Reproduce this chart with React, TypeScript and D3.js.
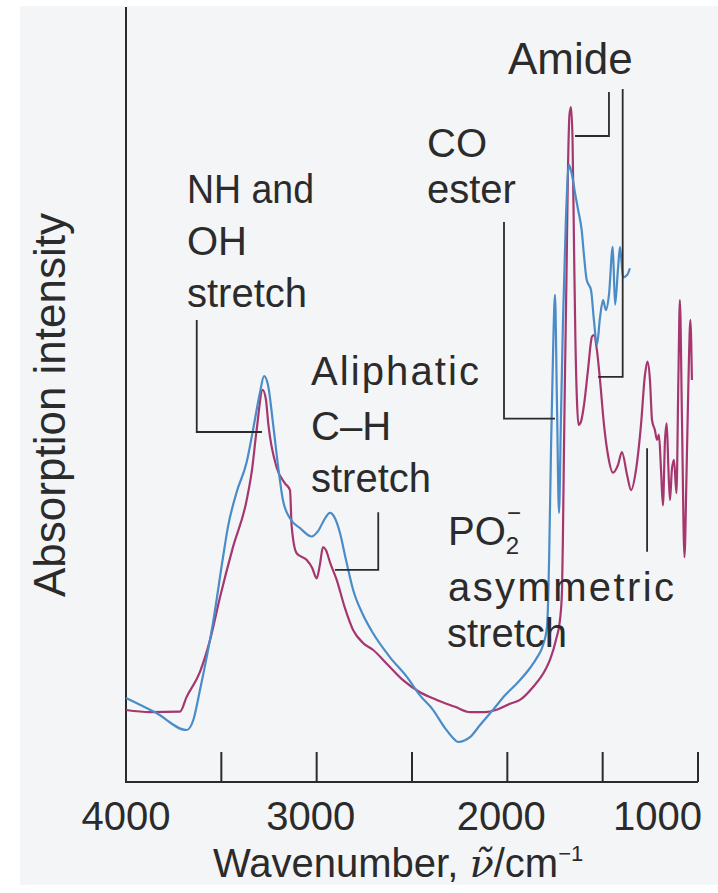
import React from "react";
import * as d3 from "d3";

// Spectrum 1 (blue): [wavenumber cm^-1, absorption intensity (arb.)]
const blueSpectrum: [number, number][] = [
  [4000, 11.05], [3843, 9.1], [3682, 6.84], [3647, 8.16], [3612, 12.1], [3544, 20.9],
  [3491, 29.6], [3465, 33.6], [3419, 38.2], [3367, 42.1], [3334, 46.3], [3297, 51.3],
  [3276, 53.4], [3255, 52.2], [3229, 47.2], [3203, 41.7], [3177, 37.1], [3140, 34.7],
  [3087, 33.4], [3026, 32.3], [2993, 33.0], [2956, 34.7], [2930, 35.4], [2904, 34.7],
  [2878, 32.8], [2846, 29.2], [2809, 25.3], [2757, 22.0], [2705, 19.6], [2615, 16.4],
  [2526, 13.8], [2458, 11.4], [2390, 9.5], [2327, 7.1], [2285, 5.8], [2259, 5.26],
  [2222, 5.5], [2196, 5.9], [2143, 7.5], [2075, 9.5], [2012, 11.4], [1949, 13.0],
  [1881, 15.0], [1844, 16.4], [1813, 18.0], [1792, 20.4], [1786, 23.9], [1781, 29.2],
  [1771, 43.7], [1760, 56.8], [1750, 64.1], [1740, 50.3], [1729, 35.4], [1719, 47.6],
  [1708, 60.8], [1693, 73.9], [1677, 81.2], [1661, 79.9], [1645, 77.5], [1629, 75.3],
  [1610, 72.6], [1598, 69.3], [1584, 66.1], [1561, 64.7], [1546, 60.8], [1530, 57.5],
  [1514, 61.1], [1498, 63.4], [1483, 62.1], [1467, 64.1], [1447, 70.4], [1435, 62.8],
  [1420, 67.4], [1409, 70.4], [1393, 66.4], [1372, 66.7], [1357, 67.6],
];

// Spectrum 2 (magenta)
const pinkSpectrum: [number, number][] = [
  [4000, 9.47], [3874, 9.2], [3717, 9.25], [3682, 11.2], [3612, 14.5], [3559, 18.7],
  [3507, 24.3], [3439, 30.9], [3367, 37.1], [3339, 41.1], [3315, 46.3], [3283, 51.6],
  [3266, 50.3], [3254, 47.2], [3210, 41.4], [3166, 39.3], [3140, 38.4], [3131, 33.6],
  [3105, 30.1], [3052, 29.2], [3024, 28.2], [3000, 26.8], [2983, 28.6], [2967, 30.9],
  [2951, 30.5], [2930, 28.9], [2895, 26.6], [2852, 22.9], [2809, 20.0], [2757, 18.3],
  [2705, 17.4], [2626, 15.4], [2547, 13.4], [2458, 11.8], [2370, 10.8], [2274, 9.9],
  [2196, 9.2], [2117, 9.2], [2056, 9.5], [1986, 10.3], [1934, 10.8], [1865, 12.5],
  [1802, 14.7], [1776, 16.1], [1745, 18.7], [1724, 21.3], [1713, 25.3], [1708, 33.2],
  [1703, 43.7], [1698, 52.9], [1690, 66.1], [1682, 80.5], [1674, 87.8], [1666, 88.8],
  [1658, 84.5], [1650, 70.0], [1643, 58.2], [1635, 50.3], [1627, 47.0], [1614, 47.4],
  [1598, 49.6], [1577, 54.2], [1556, 58.6], [1546, 58.8], [1530, 56.8], [1514, 52.9],
  [1493, 47.0], [1472, 43.0], [1446, 40.7], [1420, 41.7], [1399, 43.4], [1372, 40.4],
  [1351, 38.4], [1325, 41.1], [1299, 47.0], [1278, 53.6], [1265, 55.3], [1252, 52.9],
  [1241, 47.6], [1226, 46.3], [1215, 45.0], [1205, 45.7], [1194, 41.1], [1184, 36.4],
  [1173, 45.0], [1164, 47.2], [1155, 41.1], [1147, 37.1], [1137, 41.1], [1126, 42.4],
  [1113, 38.0], [1103, 52.9], [1095, 63.4], [1084, 47.6], [1071, 29.6], [1061, 39.5],
  [1050, 52.9], [1040, 60.8], [1032, 52.9],
];

const tickValues = [3500, 3000, 2500, 2000, 1500, 1000];
const tickLabels = ["4000", "3000", "2000", "1000"];

// Leader lines for the band labels, in data units
const leaders: [number, number][][] = [
  [[3629, 60.8], [3629, 46.05], [3287, 46.05]],
  [[2677, 35.5], [2677, 27.9], [2904, 27.9]],
  [[2017.5, 73.7], [2017.5, 47.8], [1750, 47.8]],
  [[1645, 85.0], [1467, 85.0], [1467, 90.8]],
  [[1395, 91.2], [1395, 53.3], [1524, 53.3]],
  [[1267, 43.9], [1267, 30.3]],
];

const W = 718;
const H = 893;
const FONT = "'Liberation Sans', Arial, Helvetica, sans-serif";
const INK = "#2b2b2b";

export default function App() {
  const x = d3.scaleLinear().domain([4000, 1000]).range([126, 698]);
  const y = d3.scaleLinear().domain([0, 100]).range([782, 22]);
  const line = d3
    .line<[number, number]>()
    .x((d) => x(d[0]))
    .y((d) => y(d[1]))
    .curve(d3.curveMonotoneX);
  const leader = d3
    .line<[number, number]>()
    .x((d) => x(d[0]))
    .y((d) => y(d[1]));

  const labelDx = [0, -6, -6, 4];
  const labelAnchor = ["middle", "middle", "middle", "end"];

  const fs = 40;
  const textStyle = { fontFamily: FONT, fontSize: fs, fill: INK } as const;

  return (
    <svg
      width={W}
      height={H}
      viewBox={`0 0 ${W} ${H}`}
      style={{ position: "absolute", left: 0, top: 0, display: "block" }}
    >
      <rect x={0} y={0} width={W} height={H} fill="#ffffff" />
      <rect x={20} y={6} width={W - 20} height={H - 14} fill="#f4f5f7" />

      {/* axes */}
      <line x1={x(4000)} x2={x(4000)} y1={7} y2={y(0)} stroke={INK} strokeWidth={2} />
      <line x1={x(4000) - 1} x2={x(1000)} y1={y(0)} y2={y(0)} stroke={INK} strokeWidth={2} />
      {tickValues.map((t) => (
        <line key={t} x1={x(t)} x2={x(t)} y1={y(0)} y2={y(0) - 30} stroke={INK} strokeWidth={2} />
      ))}
      {tickLabels.map((t, i) => (
        <text
          key={t}
          x={x(+t) + labelDx[i]}
          y={830}
          textAnchor={labelAnchor[i]}
          style={{ ...textStyle, fontSize: 40 }}
        >
          {t}
        </text>
      ))}

      {/* axis titles */}
      <text x={213} y={877} style={{ ...textStyle, fontSize: 40 }}>
        Wavenumber,{" "}
        <tspan style={{ fontFamily: "'DejaVu Serif', 'Liberation Serif', serif", fontStyle: "italic" }}>
          ν̃
        </tspan>
        /cm
        <tspan dy={-16} style={{ fontSize: 22 }}>
          −1
        </tspan>
      </text>
      <text
        transform={`translate(65, 405) rotate(-90)`}
        textAnchor="middle"
        style={{ ...textStyle, fontSize: 44 }}
      >
        Absorption intensity
      </text>

      {/* spectra */}
      <path d={line(pinkSpectrum) ?? ""} fill="none" stroke="#a5376e" strokeWidth={2.2} strokeLinejoin="round" />
      <path d={line(blueSpectrum) ?? ""} fill="none" stroke="#4a8cc8" strokeWidth={2.2} strokeLinejoin="round" />

      {/* leaders */}
      {leaders.map((pts, i) => (
        <path key={i} d={leader(pts) ?? ""} fill="none" stroke={INK} strokeWidth={1.8} />
      ))}

      {/* band labels */}
      <text x={187} y={203} textLength={127} lengthAdjust="spacingAndGlyphs" style={textStyle}>NH and</text>
      <text x={187} y={255} style={textStyle}>OH</text>
      <text x={187} y={307} style={textStyle}>stretch</text>

      <text x={311} y={385} textLength={168} lengthAdjust="spacing" style={textStyle}>Aliphatic</text>
      <text x={311} y={440} style={textStyle}>C–H</text>
      <text x={311} y={492} style={textStyle}>stretch</text>

      <text x={427} y={157} style={textStyle}>CO</text>
      <text x={427} y={203} style={textStyle}>ester</text>

      <text x={508} y={74} style={{ ...textStyle, fontSize: 44 }}>Amide</text>

      <text x={448} y={545} style={textStyle}>
        PO
        <tspan dy={9} style={{ fontSize: 24 }}>2</tspan>
      </text>
      <text x={507} y={521} style={{ ...textStyle, fontSize: 24 }}>−</text>
      <text x={448} y={601} textLength={226} lengthAdjust="spacing" style={textStyle}>asymmetric</text>
      <text x={447} y={647} style={textStyle}>stretch</text>
    </svg>
  );
}
